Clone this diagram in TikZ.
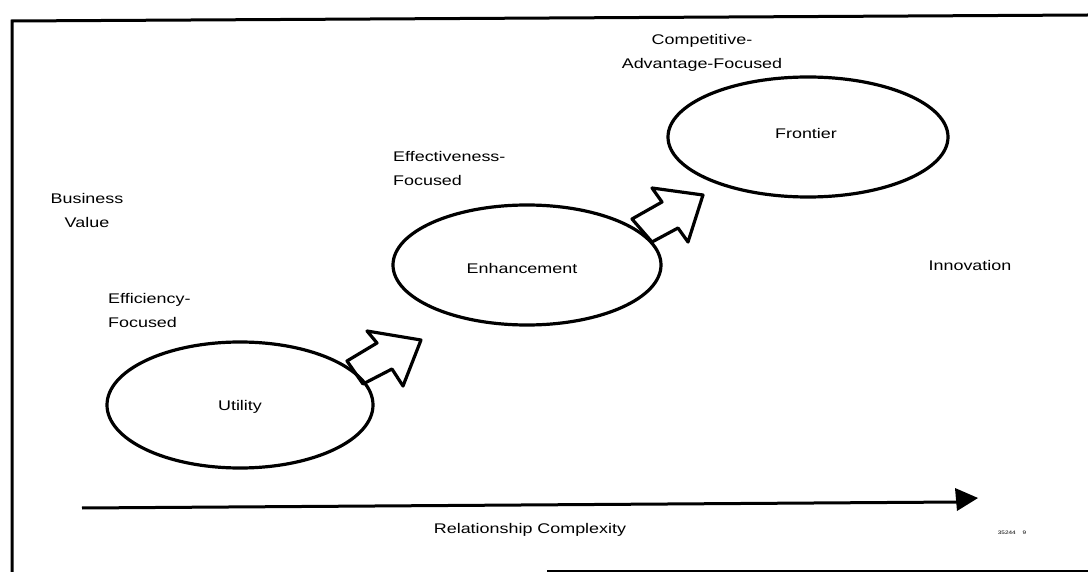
\documentclass[tikz,border=0pt]{standalone}
\usepackage{fontspec}
\setmainfont{Liberation Sans}[FakeStretch=1.28]
\begin{document}
\begin{tikzpicture}[x=1pt,y=-1pt,
  lbl/.style={font=\fontsize{14}{24}\selectfont,align=center,inner sep=0pt},
  framebar/.style={line width=3pt},
  stageline/.style={line width=3.2pt},
  blockarrow/.style={line width=3.2pt,line join=round}]
\useasboundingbox (0,0) rectangle (1088,572);

% outer frame (only the parts that remain)
\draw[framebar] (12,572) -- (12,21) -- (1088,15);
\draw[framebar] (547,571) -- (1088,571);

% the three stages
\draw[stageline] (240,405) ellipse [x radius=133, y radius=63];
\draw[stageline] (527,265) ellipse [x radius=134, y radius=60];
\draw[stageline] (808,137) ellipse [x radius=140, y radius=60];
\node[lbl] (utility) at (240,407) {Utility};
\node[lbl] (enh) at (522,268) {Enhancement};
\node[lbl] (front) at (806,133) {Frontier};

% captions
\node[lbl] (bv) at (87,210) {Business\\Value};
\node[lbl,align=left,anchor=west] (eff) at (108,310) {Efficiency-\\Focused};
\node[lbl,align=left,anchor=west] (effv) at (393,168) {Effectiveness-\\Focused};
\node[lbl] (comp) at (702,53) {Competitive-\\Advantage-Focused};
\node[lbl] (innov) at (970,265) {Innovation};

% block arrows between stages
\draw[blockarrow] (367,331) -- (377,343) -- (347,361) -- (363,384) -- (392,369) -- (403,386) -- (421,340) -- cycle;
\draw[blockarrow] (652,188) -- (662,202) -- (632,219) -- (652,242) -- (678,228) -- (688,242) -- (703,195) -- cycle;

% horizontal axis
\coordinate (ax0) at (82,508);
\coordinate (ax1) at (960,502);
\draw[line width=3pt] (ax0) -- (ax1);
\fill (955,488) -- (978,498) -- (957,511) -- cycle;
\node[lbl] (rc) at (530,530) {Relationship Complexity};
\node[font=\fontsize{5}{6}\selectfont,inner sep=0pt] (code) at (1012,533) {35244 \quad 9};
\end{tikzpicture}
\end{document}
